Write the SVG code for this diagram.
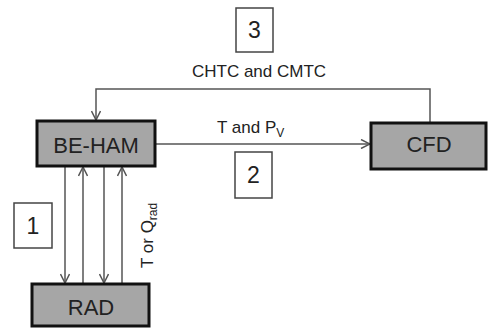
<svg xmlns="http://www.w3.org/2000/svg" width="488" height="329" viewBox="0 0 488 329">
<style>
.node{fill:#a6a6a6;stroke:#111;stroke-width:3}
.num{fill:#fff;stroke:#444;stroke-width:1.5}
.ln{fill:none;stroke:#555;stroke-width:1.5}
text{font-family:"Liberation Sans",Arial,sans-serif;fill:#222}
.big{font-size:22px;text-anchor:middle}
.lbl{font-size:17px}
.n{font-size:23px;text-anchor:middle}
</style>
<defs>
<marker id="arr" viewBox="0 0 10 10" refX="10" refY="5" markerWidth="10" markerHeight="10" markerUnits="userSpaceOnUse" orient="auto">
<path d="M1,0.5 L10,5 L1,9.5" fill="none" stroke="#555" stroke-width="1.5"/>
</marker>
</defs>
<g id="connectors">
<path class="ln" d="M430,123 V89 H96 V120" marker-end="url(#arr)"/>
<path class="ln" d="M155,144 H370" marker-end="url(#arr)"/>
<path class="ln" d="M65,166 V283" marker-end="url(#arr)"/>
<path class="ln" d="M83,284 V167" marker-end="url(#arr)"/>
<path class="ln" d="M104,166 V283" marker-end="url(#arr)"/>
<path class="ln" d="M122,284 V167" marker-end="url(#arr)"/>
<text class="lbl" x="259" y="77" text-anchor="middle">CHTC and CMTC</text>
<text class="lbl" x="217" y="133">T and P<tspan font-size="12" dy="4">V</tspan></text>
<text class="lbl" x="153" y="268" transform="rotate(-90 153 268)">T or Q<tspan font-size="12" dy="4">rad</tspan></text>
</g>
<g id="be-ham">
<rect class="node" x="37" y="121" width="118" height="45"/>
<text class="big" x="96" y="153" font-size="23">BE-HAM</text>
</g>
<g id="cfd">
<rect class="node" x="371" y="123" width="115" height="46"/>
<text class="big" x="429" y="152">CFD</text>
</g>
<g id="rad">
<rect class="node" x="32" y="284" width="117" height="42"/>
<text class="big" x="91" y="315">RAD</text>
</g>
<g id="label1">
<rect class="num" x="14" y="203" width="38" height="45"/>
<text class="n" x="33" y="234">1</text>
</g>
<g id="label2">
<rect class="num" x="235" y="152" width="37" height="46"/>
<text class="n" x="253.5" y="183">2</text>
</g>
<g id="label3">
<rect class="num" x="236" y="8" width="37" height="44"/>
<text class="n" x="254.5" y="38">3</text>
</g>
</svg>
